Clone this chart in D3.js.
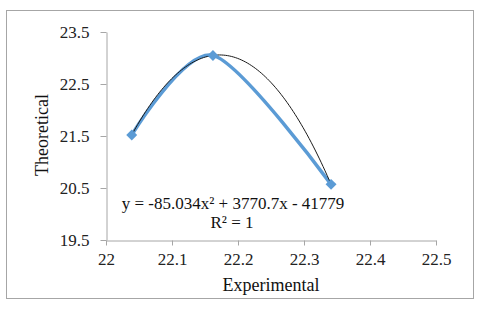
<!DOCTYPE html>
<html><head><meta charset="utf-8">
<script src="https://cdn.jsdelivr.net/npm/d3@7"></script>
<style>html,body{margin:0;padding:0;background:#fff;}svg{display:block;}
text{font-family:'Liberation Serif','Times New Roman',serif;}</style>
</head><body>
<script>
const experimental = [22.039, 22.162, 22.341];
const theoretical = [21.52, 23.05, 20.57];
const xTicks = [22, 22.1, 22.2, 22.3, 22.4, 22.5];
const yTicks = [19.5, 20.5, 21.5, 22.5, 23.5];
const equationText = "y = -85.034x\u00B2 + 3770.7x - 41779";
const r2Text = "R\u00B2 = 1";

const W = 480, H = 310;
const svg = d3.select("body").append("svg").attr("width", W).attr("height", H);
const font = "'Liberation Serif','Times New Roman',serif";

svg.append("rect").attr("x", 6.5).attr("y", 10.5).attr("width", 467).attr("height", 288)
  .attr("fill", "#fff").attr("stroke", "#a6a6a6").attr("stroke-width", 1);

const x = d3.scaleLinear().domain([22, 22.5]).range([106, 436]);
const y = d3.scaleLinear().domain([19.5, 23.5]).range([240, 32]);

const axisColor = "#a6a6a6";
const gx = svg.append("g").attr("transform", "translate(0,240.5)")
  .call(d3.axisBottom(x).tickValues(xTicks).tickSize(5).tickSizeOuter(0).tickFormat(d3.format("")));
const gy = svg.append("g").attr("transform", "translate(106.5,0)")
  .call(d3.axisLeft(y).tickValues(yTicks).tickSize(6).tickSizeOuter(0).tickFormat(d3.format(".1f")));
[gx, gy].forEach(g => {
  g.attr("font-family", font).attr("font-size", 17);
  g.select(".domain").attr("stroke", axisColor);
  g.selectAll(".tick line").attr("stroke", axisColor);
  g.selectAll(".tick text").attr("fill", "#222").style("font-family", font).style("font-size", "17px");
});
gx.selectAll(".tick text").attr("y", 12).attr("dy", "0.71em");
gy.selectAll(".tick text").attr("x", -17).attr("dy", "0.33em");

// data
const pts = experimental.map((e, i) => [e, theoretical[i]]);

// polynomial (order 2) trendline fitted through the data
function fitQuad(p) {
  const [[x0, y0], [x1, y1], [x2, y2]] = p;
  return t => y0 * (t - x1) * (t - x2) / ((x0 - x1) * (x0 - x2))
            + y1 * (t - x0) * (t - x2) / ((x1 - x0) * (x1 - x2))
            + y2 * (t - x0) * (t - x1) / ((x2 - x0) * (x2 - x1));
}
const f = fitQuad(pts);
const trend = d3.range(0, 101).map(i => {
  const t = experimental[0] + (experimental[2] - experimental[0]) * i / 100;
  return [t, f(t)];
});

svg.append("path").datum(pts)
  .attr("fill", "none").attr("stroke", "#5b9bd5").attr("stroke-width", 3.5)
  .attr("d", d3.line().x(d => x(d[0])).y(d => y(d[1])).curve(d3.curveCardinal.tension(0.15)));

svg.append("path").datum(trend)
  .attr("fill", "none").attr("stroke", "#1a1a1a").attr("stroke-width", 1)
  .attr("d", d3.line().x(d => x(d[0])).y(d => y(d[1])));

svg.selectAll(".mk").data(pts).enter().append("path")
  .attr("transform", d => `translate(${x(d[0])},${y(d[1])}) rotate(45)`)
  .attr("d", d3.symbol(d3.symbolSquare, 60))
  .attr("fill", "#5b9bd5");

// equation
svg.append("text").attr("x", 233).attr("y", 208.5).attr("text-anchor", "middle")
  .style("font-family", font).style("font-size", "17px").attr("fill", "#111").text(equationText);
svg.append("text").attr("x", 232).attr("y", 228).attr("text-anchor", "middle")
  .style("font-family", font).style("font-size", "17px").attr("fill", "#111").text(r2Text);

// axis titles
svg.append("text").attr("x", 271).attr("y", 291).attr("text-anchor", "middle")
  .style("font-family", font).style("font-size", "18px").attr("fill", "#111").text("Experimental");
svg.append("text").attr("transform", "translate(47.5,135) rotate(-90)").attr("text-anchor", "middle")
  .style("font-family", font).style("font-size", "18px").attr("fill", "#111").text("Theoretical");
</script>
</body></html>
